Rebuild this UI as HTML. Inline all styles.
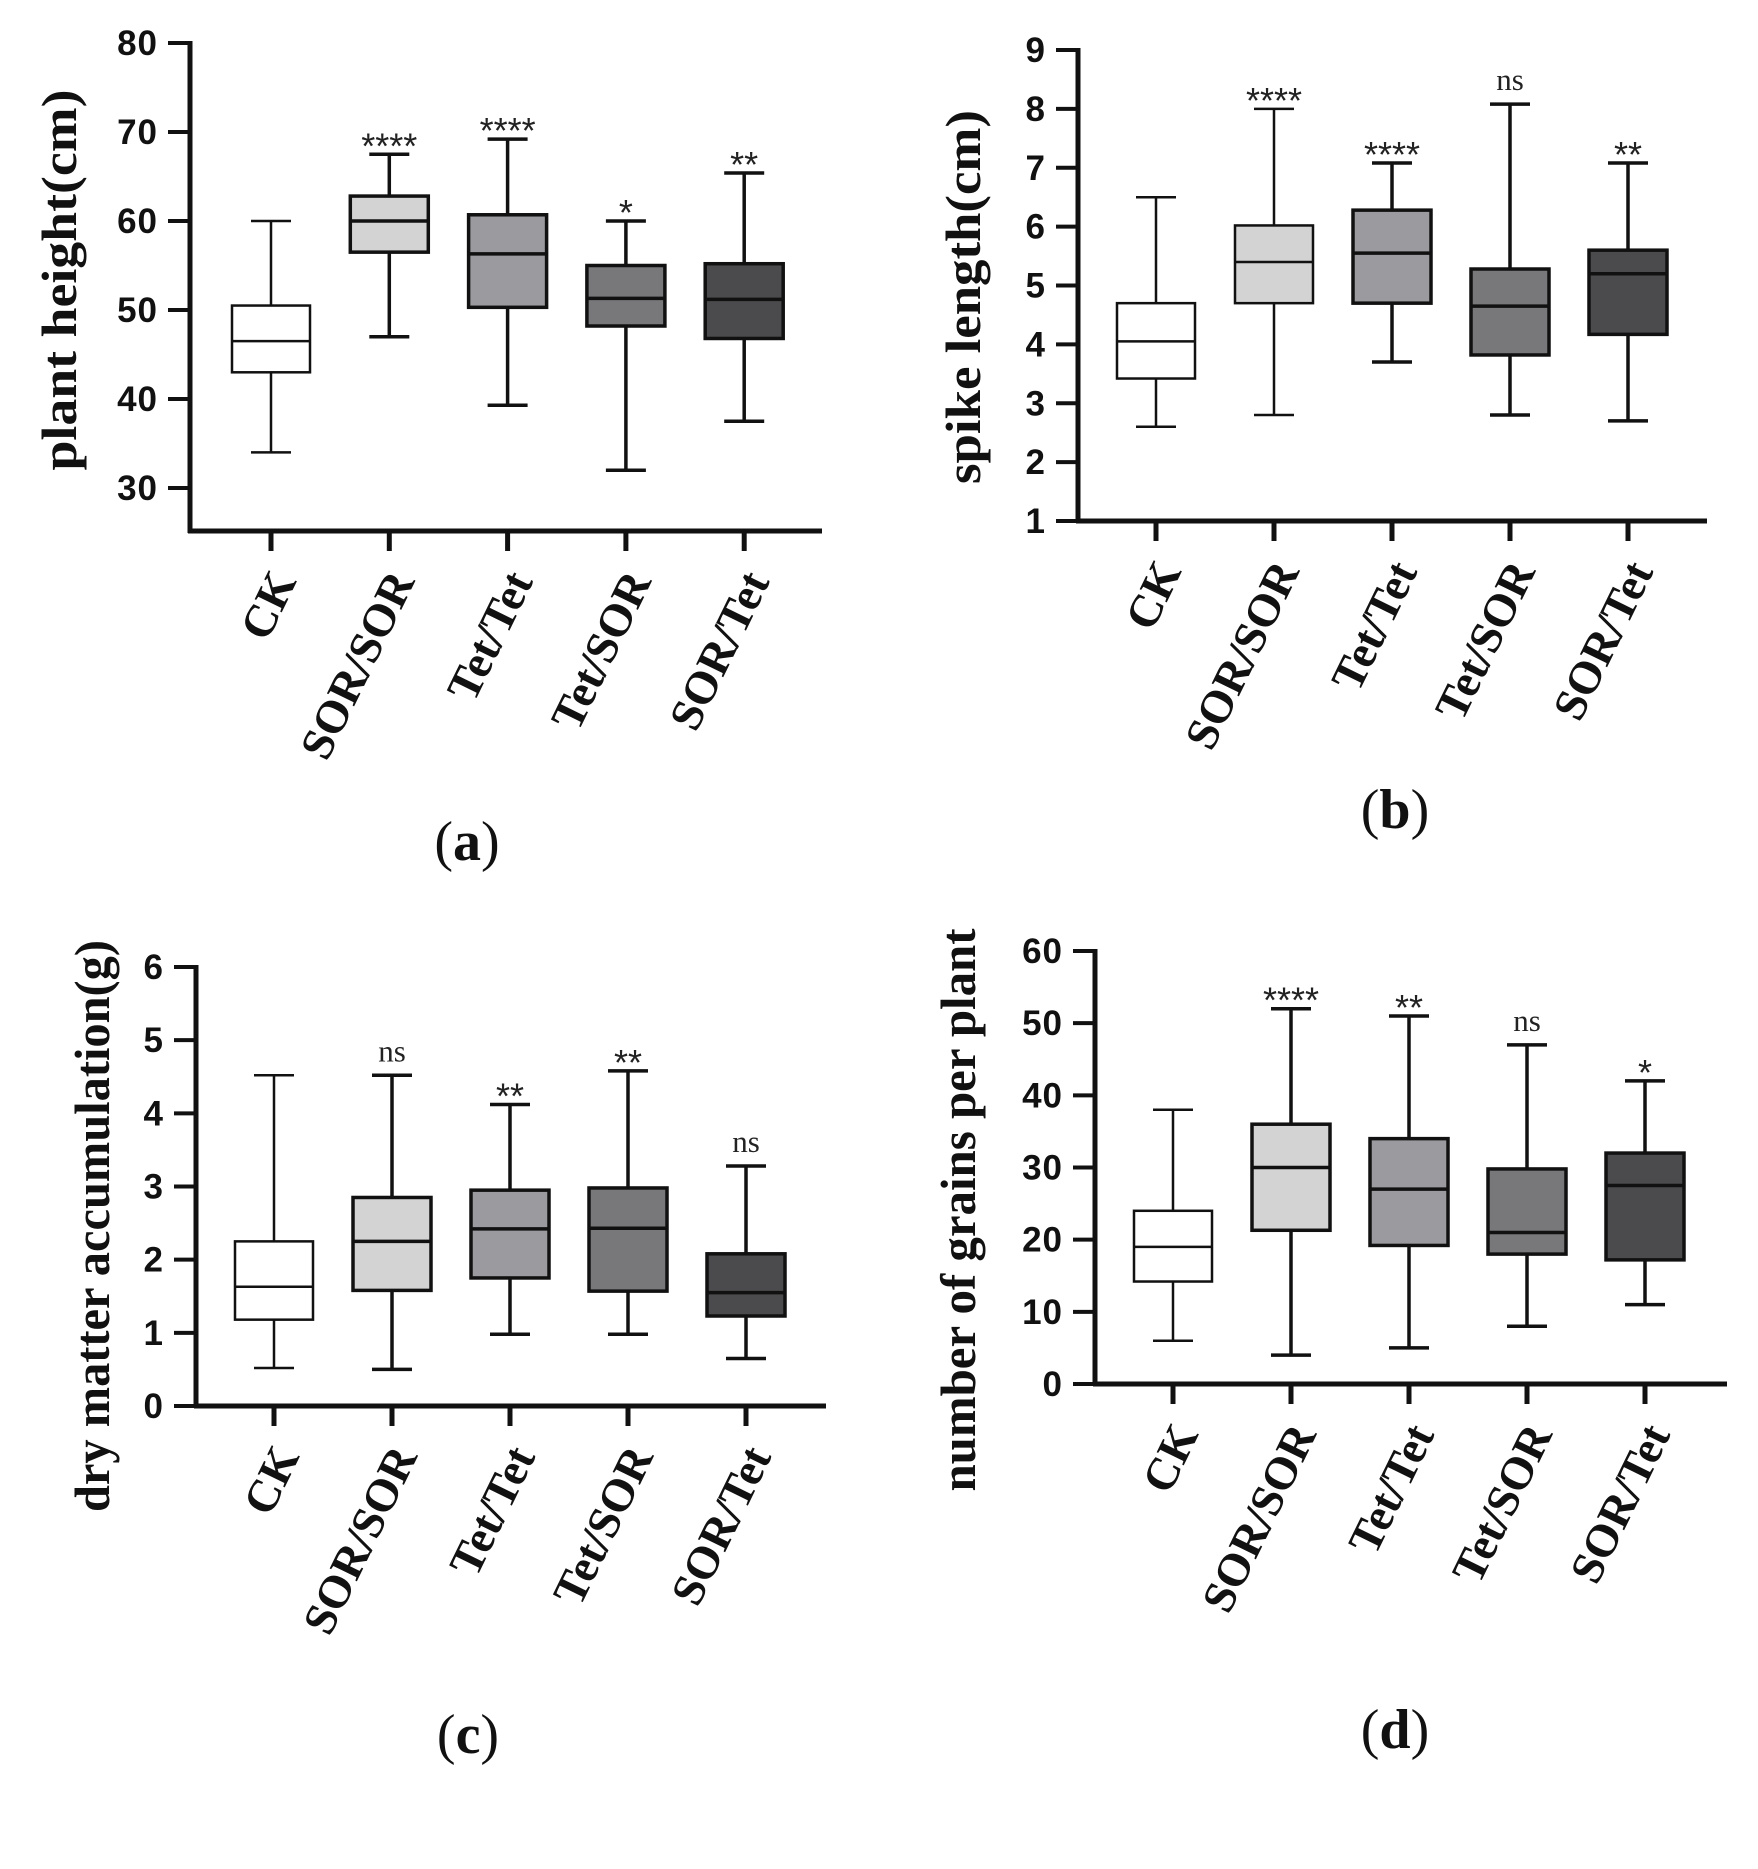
<!DOCTYPE html>
<html><head><meta charset="utf-8"><style>
html,body{margin:0;padding:0;background:#fff;}
svg{display:block;}
</style></head><body>
<svg id="fig" xmlns="http://www.w3.org/2000/svg" width="1758" height="1869" viewBox="0 0 1758 1869"></svg>
<script>
const categories = ["CK","SOR/SOR","Tet/Tet","Tet/SOR","SOR/Tet"];
const aMin=[34,47,39.3,32,37.5], aQ1=[43,56.5,50.3,48.2,46.8], aMed=[46.5,60,56.3,51.3,51.2], aQ3=[50.5,62.8,60.7,55,55.2], aMax=[60,67.5,69.2,60,65.4];
const aSig=["","****","****","*","**"];
const aTicks=[30,40,50,60,70,80];
const bMin=[2.6,2.8,3.7,2.8,2.7], bQ1=[3.42,4.7,4.7,3.82,4.17], bMed=[4.05,5.4,5.55,4.65,5.2], bQ3=[4.7,6.02,6.28,5.28,5.6], bMax=[6.5,8,7.08,8.08,7.08];
const bSig=["","****","****","ns","**"];
const bTicks=[1,2,3,4,5,6,7,8,9];
const cMin=[0.52,0.5,0.98,0.98,0.65], cQ1=[1.18,1.58,1.75,1.57,1.23], cMed=[1.63,2.25,2.42,2.43,1.55], cQ3=[2.25,2.85,2.95,2.98,2.08], cMax=[4.52,4.52,4.12,4.58,3.28];
const cSig=["","ns","**","**","ns"];
const cTicks=[0,1,2,3,4,5,6];
const dMin=[6,4,5,8,11], dQ1=[14.2,21.3,19.2,18,17.2], dMed=[19,30,27,21,27.5], dQ3=[24,36,34,29.8,32], dMax=[38,52,51,47,42];
const dSig=["","****","**","ns","*"];
const dTicks=[0,10,20,30,40,50,60];
const fills=["#ffffff","#d3d3d3","#9b9b9f","#78787b","#4b4b4d"];

const NS="http://www.w3.org/2000/svg";
const svg=document.getElementById('fig');
function mk(tag,attrs,parent){const e=document.createElementNS(NS,tag);for(const k in attrs)e.setAttribute(k,attrs[k]);(parent||svg).appendChild(e);return e;}

function panel(p){
  const g=mk('g',{});
  
  
  const y=v=>p.yTop+(p.vTop-v)*(p.yBot-p.yTop)/(p.vTop-p.vBot);
  const x=i=>p.cx0+i*p.step;
  const ya=mk('line',{x1:p.ax,y1:y(p.vTop)-2,x2:p.ax,y2:p.axisY+2,stroke:'#111','stroke-width':5},g);
  
  
  const xa=mk('line',{x1:p.ax-2,y1:p.axisY,x2:p.axEnd,y2:p.axisY,stroke:'#111','stroke-width':5},g);
  
  
  p.ticks.forEach(t=>{
    mk('line',{x1:p.ax-22,y1:y(t),x2:p.ax,y2:y(t),stroke:'#111','stroke-width':4},g);
    const tl=mk('text',{x:p.ax-32,y:y(t)+12,'text-anchor':'end','font-family':'Liberation Sans, sans-serif','font-weight':'bold','font-size':35,'letter-spacing':1,fill:'#111'},g);
    tl.textContent=t;
    
    
  });
  const tt=mk('text',{x:0,y:0,transform:`translate(${p.tx},${p.tyc}) rotate(-90)`,'text-anchor':'middle','font-family':'Liberation Serif, serif','font-weight':'bold','font-size':p.tfs,fill:'#111',textLength:p.tlen,lengthAdjust:'spacingAndGlyphs'},g);
  tt.textContent=p.title;
  
  
  categories.forEach((c,i)=>{
    const cx=x(i);
    mk('line',{x1:cx,y1:p.axisY,x2:cx,y2:p.axisY+20,stroke:'#111','stroke-width':5},g);
    const lab=mk('text',{x:0,y:0,transform:`translate(${cx+26},${p.axisY+50}) rotate(-64)`,'text-anchor':'end','font-family':'Liberation Serif, serif','font-weight':'bold','font-size':46,fill:'#111'},g);
    lab.textContent=c;
    
    
    const bg=mk('g',{},g);
    
    
    const hw=39, cw=20, sw=i==0||i==1&&p.id=='b'?2.5:3.5;
    mk('line',{x1:cx,y1:y(p.max[i]),x2:cx,y2:y(p.q3[i]),stroke:'#111','stroke-width':sw},bg);
    mk('line',{x1:cx,y1:y(p.q1[i]),x2:cx,y2:y(p.min[i]),stroke:'#111','stroke-width':sw},bg);
    mk('line',{x1:cx-cw,y1:y(p.max[i]),x2:cx+cw,y2:y(p.max[i]),stroke:'#111','stroke-width':sw},bg);
    mk('line',{x1:cx-cw,y1:y(p.min[i]),x2:cx+cw,y2:y(p.min[i]),stroke:'#111','stroke-width':sw},bg);
    mk('rect',{x:cx-hw,y:y(p.q3[i]),width:hw*2,height:y(p.q1[i])-y(p.q3[i]),fill:fills[i],stroke:'#111','stroke-width':sw},bg);
    mk('line',{x1:cx-hw,y1:y(p.med[i]),x2:cx+hw,y2:y(p.med[i]),stroke:'#111','stroke-width':sw},bg);
    if(p.sig[i]){
      const ns=p.sig[i]=='ns';
      const s=mk('text',{x:cx,y:y(p.max[i])-(ns?14:-4),'text-anchor':'middle','font-family':ns?'Liberation Serif, serif':'Liberation Sans, sans-serif','font-size':ns?31:36,fill:'#222'},bg);
      s.textContent=p.sig[i];
      
      
    }
  });
  const cap=mk('text',{x:p.capX,y:p.capY,'text-anchor':'middle','font-family':'Liberation Serif, serif','font-size':56,fill:'#111'},g);
  cap.innerHTML='(<tspan font-weight="bold">'+p.id+'</tspan>)';
  
  
}

panel({id:'a',title:'plant height(cm)',ax:190,axEnd:822,axisY:531,yTop:43,yBot:488,vTop:80,vBot:30,cx0:271,step:118.3,ticks:aTicks,
  min:aMin,q1:aQ1,med:aMed,q3:aQ3,max:aMax,sig:aSig,tx:76,tyc:280,tfs:50,tlen:381,capX:467,capY:860});
panel({id:'b',title:'spike length(cm)',ax:1078,axEnd:1707,axisY:521,yTop:50,yBot:521,vTop:9,vBot:1,cx0:1156,step:118,ticks:bTicks,
  min:bMin,q1:bQ1,med:bMed,q3:bQ3,max:bMax,sig:bSig,tx:980,tyc:297,tfs:50,tlen:374,capX:1395,capY:828});
panel({id:'c',title:'dry matter accumulation(g)',ax:196,axEnd:826,axisY:1406,yTop:967,yBot:1406,vTop:6,vBot:0,cx0:274,step:118,ticks:cTicks,
  min:cMin,q1:cQ1,med:cMed,q3:cQ3,max:cMax,sig:cSig,tx:109,tyc:1226,tfs:50,tlen:572,capX:468,capY:1753});
panel({id:'d',title:'number of grains per plant',ax:1095,axEnd:1727,axisY:1384,yTop:951,yBot:1384,vTop:60,vBot:0,cx0:1173,step:118,ticks:dTicks,
  min:dMin,q1:dQ1,med:dMed,q3:dQ3,max:dMax,sig:dSig,tx:975,tyc:1210,tfs:50,tlen:563,capX:1395,capY:1748});
</script>
</body></html>
